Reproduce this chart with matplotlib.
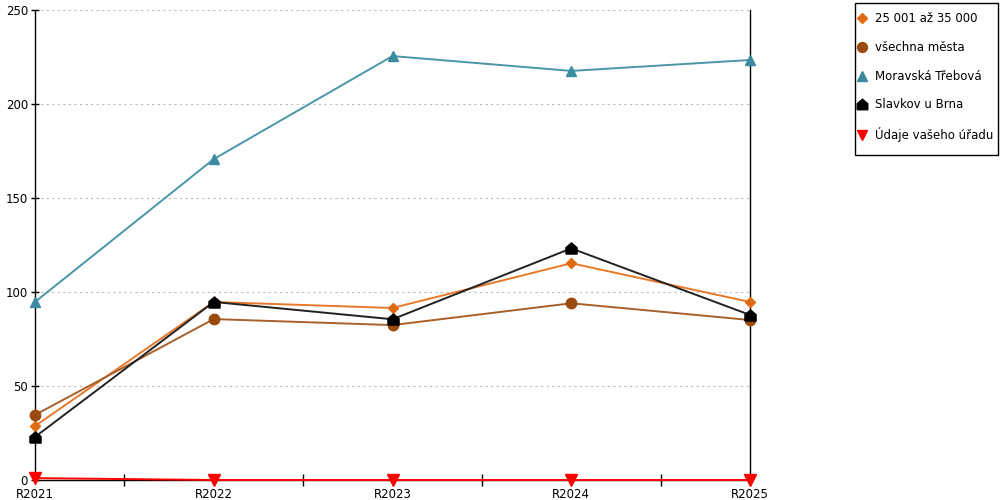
import matplotlib
matplotlib.use("Agg")
import matplotlib.pyplot as plt
from matplotlib.lines import Line2D
from matplotlib.patches import Rectangle
from matplotlib.ticker import FixedLocator

categories = ["R2021", "R2022", "R2023", "R2024", "R2025"]
s_25001 = [28.7, 94.7, 91.5, 115.3, 94.7]
s_vsechna = [34.6, 85.6, 82.4, 94.0, 85.1]
s_moravska = [94.7, 170.7, 225.5, 217.6, 223.4]
s_slavkov = [22.9, 94.7, 85.5, 123.2, 87.8]
s_urad = [1.0, 0.0, 0.0, 0.0, 0.0]

series_names = ["25 001 až 35 000", "všechna města", "Moravská Třebová",
                "Slavkov u Brna", "Údaje vašeho úřadu"]

house = [(-1, -1), (1, -1), (1, 0.15), (0, 1), (-1, 0.15), (-1, -1)]

styles = [
    dict(line="#E8782A", mc="#E06A10", marker="D", ms=5.5),
    dict(line="#A8602A", mc="#9A4A0E", marker="o", ms=7.5),
    dict(line="#4A95A8", mc="#3A8AA0", marker="^", ms=7.5),
    dict(line="#222222", mc="#000000", marker=house, ms=8),
    dict(line="#FF0000", mc="#FF0000", marker="v", ms=8),
]
data = [s_25001, s_vsechna, s_moravska, s_slavkov, s_urad]

plt.rcParams['font.family'] = ['DejaVu Sans']
fig = plt.figure(figsize=(10, 5), dpi=100)
ax = fig.add_axes([0.035, 0.04, 0.715, 0.94])

x = list(range(len(categories)))
for d, st in zip(data, styles):
    ax.plot(x, d, color=st["line"], lw=1.4, marker=st["marker"], ms=st["ms"],
            markerfacecolor=st["mc"], markeredgecolor=st["mc"], clip_on=False, zorder=3)

ax.set_xlim(0, 4)
ax.set_ylim(0, 250)
ax.set_yticks([0, 50, 100, 150, 200, 250])
ax.yaxis.grid(True, linestyle=(0, (2, 3)), color="#BBBBBB", lw=0.8)
ax.set_axisbelow(True)

ax.set_xticks(x)
ax.set_xticklabels(categories)
ax.xaxis.set_minor_locator(FixedLocator([0.5, 1.5, 2.5, 3.5]))
ax.tick_params(axis="x", which="major", length=0, pad=6, labelsize=8.5)
ax.tick_params(axis="x", which="minor", length=8, direction="inout", width=1)
ax.tick_params(axis="y", which="major", length=6, direction="inout", width=1, labelsize=8.5, pad=2)

ax.spines["top"].set_visible(False)
for sp in ["left", "bottom", "right"]:
    ax.spines[sp].set_color("black")
    ax.spines[sp].set_linewidth(1)

# legend frame drawn separately
fig.patches.append(Rectangle((0.855, 1 - 155 / 500), 0.998 - 0.855, (155 - 3) / 500,
                             transform=fig.transFigure, fill=False,
                             edgecolor="black", lw=1))

handles = [Line2D([], [], linestyle="none", marker=st["marker"],
                  markerfacecolor=st["mc"], markeredgecolor=st["mc"],
                  ms=st["ms"] * 0.95) for st in styles]
leg = fig.legend(handles, series_names, loc="upper left",
                 bbox_to_anchor=(0.857, 1 - 12 / 500), fontsize=8.5, frameon=False,
                 labelspacing=1.34, handlelength=0.8, handletextpad=0.72,
                 borderpad=0, borderaxespad=0)

fig.savefig("out.png", dpi=100)
